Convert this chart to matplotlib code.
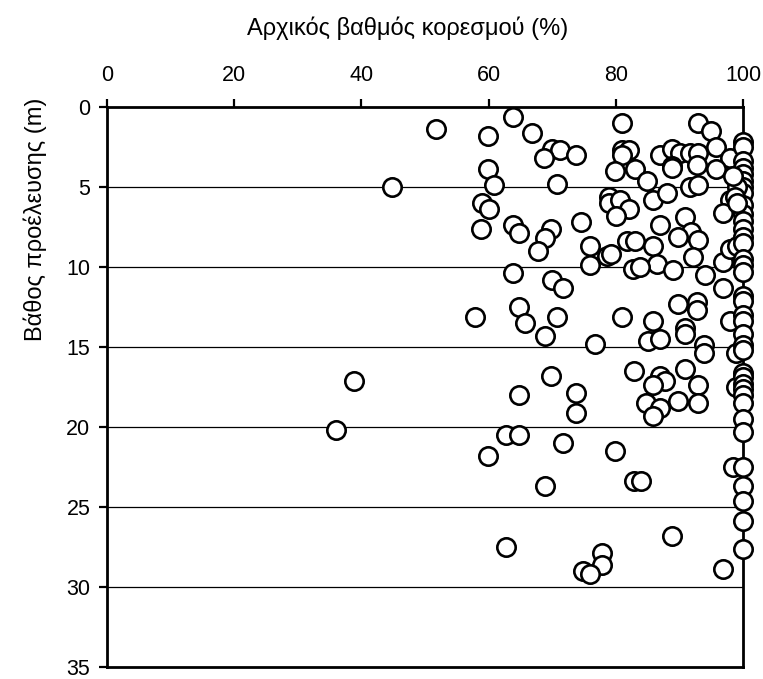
import matplotlib
matplotlib.use("Agg")
import matplotlib.pyplot as plt
import numpy as np

plt.rcParams['font.family'] = ['Liberation Sans', 'DejaVu Sans']

# arxikos vathmos koresmou (%) - vathos (m)
sat_a = [63.8, 51.8, 59.9, 66.8, 80.9, 92.9, 94.9,
         69.9, 71.2, 68.7, 73.8, 59.9, 60.8, 44.8, 70.7,
         81.0, 82.0, 81.0, 86.9, 88.8, 90.1, 88.8, 88.8,
         91.7, 93.0, 92.7, 95.8, 98.0, 95.8, 79.9, 83.0, 84.9,
         91.7, 93.0]
dep_a = [0.6, 1.4, 1.8, 1.6, 1.0, 1.0, 1.5,
         2.6, 2.7, 3.2, 3.0, 3.9, 4.9, 5.0, 4.8,
         2.7, 2.7, 3.0, 3.0, 2.6, 2.9, 3.7, 3.8,
         2.9, 2.9, 3.6, 2.5, 3.2, 3.9, 4.0, 3.9, 4.6,
         5.0, 4.9]

sat_b = [58.9, 60.1, 58.8, 63.8, 64.8, 69.8, 68.8, 67.8,
         79.0, 79.0, 80.6, 82.0, 80.1, 85.9, 88.0,
         98.0, 96.9, 90.9, 74.6, 86.9, 91.9, 89.8, 93.0, 81.7, 83.0, 85.9,
         75.9, 78.6, 79.3, 75.9, 86.4, 89.0, 82.7, 83.8, 92.2, 96.9, 98.0, 99.0]
dep_b = [6.0, 6.4, 7.6, 7.4, 7.9, 7.6, 8.2, 9.0,
         5.6, 6.0, 5.8, 6.4, 6.8, 5.8, 5.4,
         5.8, 6.6, 6.9, 7.2, 7.4, 7.8, 8.1, 8.3, 8.4, 8.4, 8.7,
         8.7, 9.3, 9.2, 9.9, 9.8, 10.2, 10.1, 10.0, 9.4, 9.7, 8.9, 8.7]

sat_c = [63.8, 69.9, 71.7, 94.0, 96.9, 57.9, 64.8, 65.8, 68.8, 70.8,
         76.8, 80.9, 85.9, 85.1, 86.9, 89.8, 92.7, 92.7, 90.9, 90.9,
         93.9, 93.9, 98.0, 98.9]
dep_c = [10.4, 10.8, 11.3, 10.5, 11.3, 13.1, 12.5, 13.5, 14.3, 13.1,
         14.8, 13.1, 13.4, 14.6, 14.5, 12.3, 12.2, 12.7, 13.8, 14.2,
         14.9, 15.4, 13.4, 15.4]

sat_d = [82.9, 86.9, 87.7, 85.9, 90.9, 92.9, 92.9, 89.8, 84.8, 86.9, 85.9,
         69.8, 64.8, 73.8, 73.8, 98.9, 38.8, 36.0]
dep_d = [16.5, 16.8, 17.1, 17.4, 16.4, 17.4, 18.5, 18.4, 18.5, 18.8, 19.3,
         16.8, 18.0, 17.9, 19.1, 17.5, 17.1, 20.2]

sat_e = [62.7, 64.8, 71.7, 59.9, 79.9, 68.8, 82.9, 84.0, 88.8, 62.8,
         77.9, 77.9, 74.9, 75.9, 96.9, 98.5]
dep_e = [20.5, 20.5, 21.0, 21.8, 21.5, 23.7, 23.4, 23.4, 26.8, 27.5,
         27.9, 28.6, 29.0, 29.2, 28.9, 22.5]

# koresmena deigmata (100%)
dep_full = [2.2, 2.5, 3.4, 3.8, 4.2, 4.6, 5.0, 5.4,
            6.1, 6.7, 7.1, 7.6, 8.1, 8.5, 9.5, 9.9, 10.3, 11.8, 12.1,
            13.0, 13.4, 14.2, 14.9, 15.2, 16.6, 16.9, 17.3, 17.6, 18.0, 18.5,
            19.5, 20.3, 22.5, 23.7, 24.6, 25.9, 27.6]
sat_near = [99.0, 98.7, 99.0, 98.5]
dep_near = [5.0, 5.6, 6.0, 4.3]

sat = np.array(sat_a + sat_b + sat_c + sat_d + sat_e + [100.0] * len(dep_full) + sat_near)
dep = np.array(dep_a + dep_b + dep_c + dep_d + dep_e + dep_full + dep_near)

fig = plt.figure(figsize=(7.63, 6.79), dpi=100)
ax = fig.add_axes([107/763, 1 - 667/679, 636/763, 560/679])

for g in [5, 10, 15, 20, 25, 30]:
    ax.axhline(g, color='black', lw=0.9, zorder=1)

ax.scatter(sat, dep, s=175, facecolor='white', edgecolor='black', linewidth=1.9, zorder=3, clip_on=False)

ax.set_xlim(0, 100)
ax.set_ylim(35, 0)
ax.xaxis.tick_top()
ax.xaxis.set_label_position('top')
ax.set_xticks(np.arange(0, 101, 20))
ax.set_yticks(np.arange(0, 36, 5))
ax.tick_params(axis='both', direction='out', length=6, width=1.6, labelsize=15.5, pad=6)
ax.tick_params(axis='x', pad=9)
for sp in ax.spines.values():
    sp.set_linewidth(2)

ax.set_xlabel('Αρχικός βαθμός κορεσμού (%)', fontsize=17)
ax.set_ylabel('Βάθος προέλευσης (m)', fontsize=17)
ax.xaxis.set_label_coords(0.473, 1.141)
ax.xaxis.label.set_va('center')
ax.yaxis.set_label_coords(-0.094, 0.80)

fig.savefig('out.png', dpi=100)
